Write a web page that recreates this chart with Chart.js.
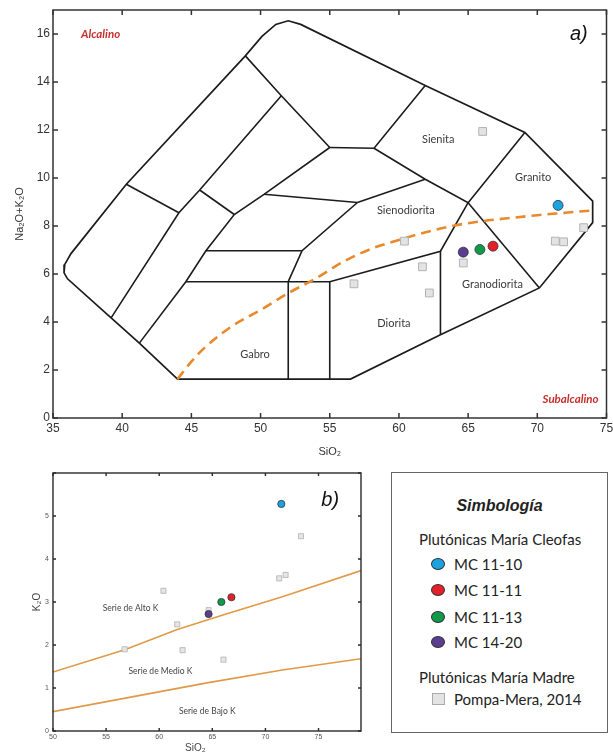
<!DOCTYPE html>
<html>
<head>
<meta charset="utf-8">
<script src="https://cdn.jsdelivr.net/npm/chart.js@4.4.1/dist/chart.umd.min.js"></script>
<style>
html,body{margin:0;padding:0;background:#fff;}
body{width:613px;height:754px;position:relative;overflow:hidden;font-family:Lato,sans-serif;}
#tasWrap{position:absolute;left:0;top:0;width:613px;height:460px;}
#kWrap{position:absolute;left:0;top:460px;width:385px;height:294px;}
#legend{position:absolute;left:391px;top:472px;width:217px;height:261px;border:1.3px solid #666;box-sizing:border-box;color:#222;}
#legend .row{position:absolute;height:20px;line-height:20px;white-space:nowrap;font-size:15px;}
#legend .ttl{left:0;width:100%;text-align:center;font-family:"Liberation Sans",Arial,sans-serif;font-weight:bold;font-style:italic;font-size:16px;}
#legend .mk{position:absolute;width:14px;height:12px;border-radius:50%;border:1px solid #333;box-sizing:border-box;}
#legend .sq{position:absolute;width:13px;height:12px;background:#e3e3e3;border:1px solid #aaa;box-sizing:border-box;}
</style>
</head>
<body>
<div id="tasWrap"><canvas id="tas"></canvas></div>
<div id="kWrap"><canvas id="k2o"></canvas></div>
<div id="legend"></div>
<script>
// ---- data ----
const sampleNames = ['MC 11-10', 'MC 11-11', 'MC 11-13', 'MC 14-20'];
const sampleColors = ['#1aa3e0', '#e3202b', '#0f9a4b', '#5b3d91'];
const sampleSiO2 = [71.5, 66.8, 65.85, 64.65];
const sampleAlk = [8.86, 7.16, 7.02, 6.91];
const sampleK2O = [5.28, 3.11, 3.0, 2.72];

const pompaSiO2 = [56.75, 60.4, 61.7, 62.2, 64.65, 66.05, 71.3, 71.9, 73.35];
const pompaAlk = [5.59, 7.37, 6.3, 5.21, 6.46, 11.94, 7.37, 7.34, 7.93];
const pompaK2O = [1.9, 3.26, 2.48, 1.88, 2.81, 1.66, 3.55, 3.63, 4.53];

// TAS field boundaries (plutonic version)
const tasOutline = [[44,1.62],[56.5,1.62],[63,3.47],[70.15,5.42],[74,8.14],[74,9.04],[69.1,11.9],[61.9,13.85],
  [52.9,16.4],[52,16.55],[51.1,16.4],[50.1,15.9],[48.9,15.09],[40.3,9.74],[36.3,6.85],[35.85,6.4],[35.8,6.05],
  [36.05,5.8],[39.2,4.17],[41.24,3.12],[44,1.62]];
const tasLines = [
  [[48.9,15.09],[51.5,13.43],[55,11.27]],
  [[39.2,4.17],[44.1,8.55],[45.6,9.5],[51.5,13.43]],
  [[40.3,9.74],[44.1,8.55]],
  [[45.6,9.5],[48.1,8.48]],
  [[41.24,3.12],[44.6,5.68],[46.05,6.97],[48.1,8.48],[50.25,9.32],[55,11.27]],
  [[50.25,9.32],[57,8.98]],
  [[55,11.27],[58.2,11.24],[61.9,13.85]],
  [[58.2,11.24],[61.9,9.95],[65,8.97],[69.1,11.9]],
  [[57,8.98],[61.9,9.95]],
  [[52,5.68],[53,6.97],[57,8.98]],
  [[46.05,6.97],[53,6.97]],
  [[44.6,5.68],[55,5.68],[63,6.95],[65,8.97]],
  [[52,1.62],[52,5.68]],
  [[55,1.62],[55,5.68]],
  [[63,3.47],[63,6.95]],
  [[65,8.97],[70.15,5.42]]
];
// alkaline / subalkaline divide
const alkDivide = [[44,1.62],[45,2.35],[46,2.95],[48,3.85],[50,4.5],[52,5.2],[54,5.82],[56,6.52],[58,7.05],
  [60,7.42],[62,7.75],[64,8.02],[66,8.2],[68,8.33],[70,8.45],[72,8.55],[74,8.65]];

const fieldNames = ['Sienita', 'Granito', 'Sienodiorita', 'Granodiorita', 'Diorita', 'Gabro'];
const fieldX = [62.84, 69.7, 60.5, 66.76, 59.64, 49.6];
const fieldY = [11.62, 10.02, 8.66, 5.56, 3.93, 2.66];

// K2O vs SiO2 series boundaries
const highKLine = [[50,1.37],[56.75,1.89],[61.7,2.36],[66.3,2.72],[71.6,3.12],[79,3.73]];
const lowKLine = [[50,0.45],[64.5,1.12],[71.6,1.42],[79,1.68]];
const seriesNames = ['Serie de Alto K', 'Serie de Medio K', 'Serie de Bajo K'];
const seriesX = [57.3, 60.12, 64.52];
const seriesY = [2.86, 1.4, 0.45];

// ---- helpers ----
const pts = a => a.map(p => ({x: p[0], y: p[1]}));
const zip = (xs, ys) => xs.map((x, i) => ({x: x, y: ys[i]}));
const sans = '"Liberation Sans", Arial, sans-serif';
Chart.defaults.font.family = sans;
Chart.defaults.color = '#333';

const framePlugin = {
  id: 'frame',
  afterDatasetsDraw(chart, args, o) {
    const {ctx, chartArea: a, scales} = chart;
    ctx.save();
    ctx.strokeStyle = o.color;
    ctx.lineWidth = o.width;
    ctx.strokeRect(a.left, a.top, a.right - a.left, a.bottom - a.top);
    ctx.beginPath();
    scales.x.ticks.forEach(t => {
      const px = scales.x.getPixelForValue(t.value);
      ctx.moveTo(px, a.bottom); ctx.lineTo(px, a.bottom - o.tick);
      ctx.moveTo(px, a.top); ctx.lineTo(px, a.top + o.tick);
    });
    scales.y.ticks.forEach(t => {
      const py = scales.y.getPixelForValue(t.value);
      ctx.moveTo(a.left, py); ctx.lineTo(a.left + o.tick, py);
      ctx.moveTo(a.right, py); ctx.lineTo(a.right - o.tick, py);
    });
    ctx.stroke();
    ctx.restore();
  }
};

const notesPlugin = {
  id: 'notes',
  afterDatasetsDraw(chart, args, o) {
    const {ctx, scales} = chart;
    ctx.save();
    ctx.textAlign = 'center';
    ctx.textBaseline = 'middle';
    (o.items || []).forEach(it => {
      ctx.font = it.font;
      ctx.fillStyle = it.color;
      ctx.fillText(it.text, scales.x.getPixelForValue(it.x), scales.y.getPixelForValue(it.y));
    });
    ctx.restore();
  }
};

function sampleSets(ys, r) {
  return sampleNames.map((n, i) => ({
    label: n,
    data: [{x: sampleSiO2[i], y: ys[i]}],
    pointRadius: r, pointHoverRadius: r,
    backgroundColor: sampleColors[i], borderColor: '#333', borderWidth: 0.8
  }));
}

function fixX(h) {
  return s => { s.height = h; s.paddingLeft = 0; s.paddingRight = 0; };
}
function fixY(w) {
  return s => { s.width = w; s.paddingTop = 0; s.paddingBottom = 0; };
}

// ---- a) TAS ----
const tasSets = sampleSets(sampleAlk, 5).concat([
  {label: 'Pompa-Mera, 2014', data: zip(pompaSiO2, pompaAlk), pointStyle: 'rect', pointRadius: 5.5,
   backgroundColor: '#e3e3e3', borderColor: '#b3b3b3', borderWidth: 1},
  {label: 'divide', data: pts(alkDivide), showLine: true, pointRadius: 0, borderColor: '#e8892c',
   borderWidth: 2.6, borderDash: [10, 6], cubicInterpolationMode: 'monotone'},
  {label: 'outline', data: pts(tasOutline), showLine: true, pointRadius: 0, borderColor: '#1c1c1c', borderWidth: 1.7}
]);
tasLines.forEach((l, i) => tasSets.push({label: 'b' + i, data: pts(l), showLine: true, pointRadius: 0,
  borderColor: '#1c1c1c', borderWidth: 1.6}));

const tasNotes = fieldNames.map((t, i) => ({text: t, x: fieldX[i], y: fieldY[i], font: '11px Lato', color: '#3a3a3a'}));
tasNotes.push({text: 'Alcalino', x: 38.44, y: 16.0, font: 'italic bold 11.5px Lato', color: '#c5302c'});
tasNotes.push({text: 'Subalcalino', x: 72.4, y: 0.79, font: 'italic bold 11.5px Lato', color: '#c5302c'});
tasNotes.push({text: 'a)', x: 73.0, y: 16.0, font: 'italic 20px ' + sans, color: '#111'});

new Chart(document.getElementById('tas'), {
  type: 'scatter',
  data: {datasets: tasSets},
  plugins: [framePlugin, notesPlugin],
  options: {
    responsive: true, maintainAspectRatio: false, animation: false,
    layout: {padding: {top: 10, right: 2, left: 0, bottom: 0}},
    plugins: {legend: {display: false}, tooltip: {enabled: false},
      frame: {color: '#333', width: 1.5, tick: 5}, notes: {items: tasNotes}},
    scales: {
      x: {min: 35, max: 75, ticks: {stepSize: 5, includeBounds: false, padding: 3, font: {size: 12}},
        grid: {display: false, drawTicks: false}, border: {display: false},
        title: {display: true, text: 'SiO₂', font: {size: 11}, padding: {top: 0, bottom: 1}},
        afterFit: fixX(42)},
      y: {min: 0, max: 17, ticks: {stepSize: 2, includeBounds: false, padding: 3, font: {size: 12}},
        grid: {display: false, drawTicks: false}, border: {display: false},
        title: {display: true, text: 'Na₂O+K₂O', font: {size: 11}, padding: {top: 13, bottom: 0}},
        afterFit: fixY(53)}
    }
  }
});

// ---- b) K2O vs SiO2 ----
const kSets = sampleSets(sampleK2O, 3.6).concat([
  {label: 'Pompa-Mera, 2014', data: zip(pompaSiO2, pompaK2O), pointStyle: 'rect', pointRadius: 3.6,
   backgroundColor: '#e6e6e6', borderColor: '#b0b0b0', borderWidth: 0.8},
  {label: 'altoK', data: pts(highKLine), showLine: true, pointRadius: 0, borderColor: '#e09a45', borderWidth: 1.6},
  {label: 'bajoK', data: pts(lowKLine), showLine: true, pointRadius: 0, borderColor: '#e09a45', borderWidth: 1.6}
]);
const kNotes = seriesNames.map((t, i) => ({text: t, x: seriesX[i], y: seriesY[i], font: '8.5px Lato', color: '#444'}));
kNotes.push({text: 'b)', x: 76.1, y: 5.36, font: 'italic 20px ' + sans, color: '#111'});
kNotes.push({text: 'SiO₂', x: 63.4, y: -0.4, font: '10px ' + sans, color: '#444'});

new Chart(document.getElementById('k2o'), {
  type: 'scatter',
  data: {datasets: kSets},
  plugins: [framePlugin, notesPlugin],
  options: {
    responsive: true, maintainAspectRatio: false, animation: false,
    layout: {padding: {top: 13, right: 24, left: 0, bottom: 0}},
    plugins: {legend: {display: false}, tooltip: {enabled: false},
      frame: {color: '#2a2a2a', width: 1.4, tick: 3}, notes: {items: kNotes}},
    scales: {
      x: {min: 50, max: 79, ticks: {stepSize: 5, includeBounds: false, padding: 2, font: {size: 7}, color: '#555'},
        grid: {display: false, drawTicks: false}, border: {display: false},
        afterFit: fixX(23)},
      y: {min: 0, max: 6, ticks: {stepSize: 1, padding: 4, font: {size: 7}, color: '#555',
          callback: v => v === 6 ? '' : v},
        grid: {display: false, drawTicks: false}, border: {display: false},
        title: {display: true, text: 'K₂O', font: {size: 10}, padding: {top: 31, bottom: 0}, color: '#444'},
        afterFit: fixY(53)}
    }
  }
});

// ---- legend box ----
const lg = document.getElementById('legend');
function row(html, top, left, extra) {
  const d = document.createElement('div');
  d.className = 'row' + (extra ? ' ' + extra : '');
  d.style.top = top + 'px';
  if (left !== null) d.style.left = left + 'px';
  d.innerHTML = html;
  lg.appendChild(d);
  return d;
}
row('Simbología', 23, null, 'ttl');
row('Plutónicas María Cleofas', 56, 27);
const itemTops = [81, 107, 134, 159];
sampleNames.forEach((n, i) => {
  row(n, itemTops[i], 62);
  const m = document.createElement('div');
  m.className = 'mk';
  m.style.left = '39px';
  m.style.top = (itemTops[i] + 4) + 'px';
  m.style.background = sampleColors[i];
  lg.appendChild(m);
});
row('Plutónicas María Madre', 194, 27);
row('Pompa-Mera, 2014', 216, 62);
const sq = document.createElement('div');
sq.className = 'sq';
sq.style.left = '40px';
sq.style.top = '220px';
lg.appendChild(sq);
</script>
</body>
</html>
